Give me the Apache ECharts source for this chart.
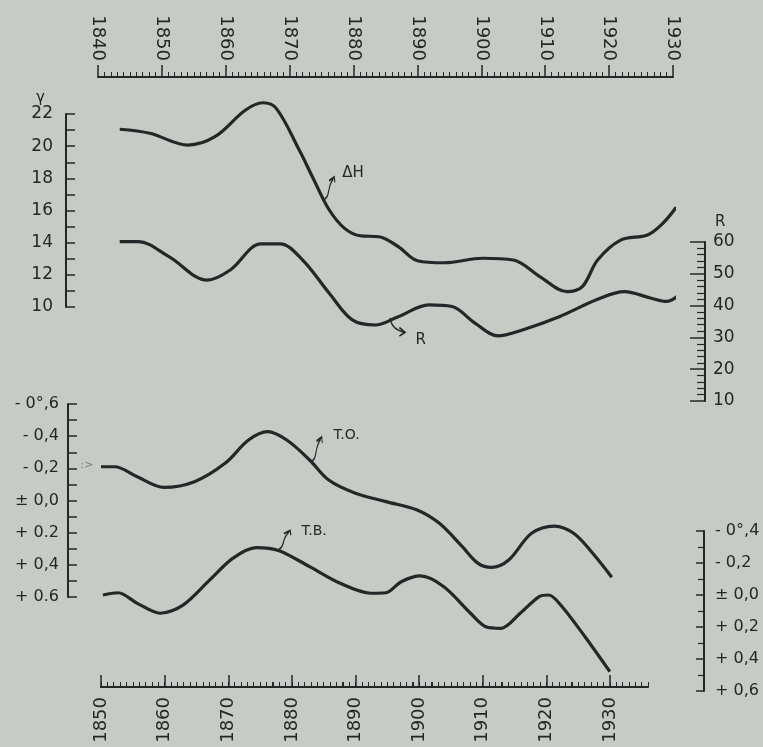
<!DOCTYPE html>
<html><head><meta charset="utf-8">
<script src="https://cdn.jsdelivr.net/npm/echarts@6/dist/echarts.min.js"></script>
<style>html,body{margin:0;padding:0;background:#c6cbc5}#c{width:763px;height:747px}</style>
</head><body><div id="c"></div>
<script>
// ΔH (gamma), top panel, upper time axis
const dhYears  = [1843.4,1848.1,1854.1,1858.3,1863.1,1865.8,1867.9,1871.5,1873.8,1876.2,1878.6,1881.0,1884.0,1887.0,1890.0,1894.2,1900.2,1905.0,1909.2,1913.4,1915.8,1918.2,1921.8,1926.0,1928.4,1930.5];
const dhValues = [21.05,20.80,20.07,20.59,22.25,22.70,22.35,19.76,17.90,16.03,14.89,14.43,14.37,13.75,12.88,12.75,13.03,12.92,11.88,10.95,11.26,12.92,14.16,14.48,15.20,16.20];
// R (sunspot number), top panel, right axis
const rYears  = [1843.4,1846.3,1851.1,1857.1,1860.7,1865.5,1868.5,1872.0,1876.2,1879.8,1883.4,1887.0,1891.8,1895.4,1899.0,1902.6,1906.2,1912.2,1918.2,1922.4,1926.6,1929.0,1932.0];
const rValues = [60.1,60.1,55.4,48.0,51.2,59.4,59.4,54.4,43.9,35.5,33.9,36.5,40.2,39.7,34.5,30.5,32.2,36.5,42.0,44.4,42.3,41.3,45.3];
// T.O., bottom panel, left axis (inverted)
const toYears  = [1850.0,1852.1,1855.7,1859.9,1864.7,1869.5,1873.2,1876.2,1879.2,1882.8,1885.8,1890.0,1894.8,1899.7,1903.2,1906.8,1909.3,1911.4,1914.1,1917.7,1921.3,1924.3,1927.3,1930.3];
const toValues = [-0.210,-0.210,-0.148,-0.082,-0.117,-0.231,-0.376,-0.428,-0.376,-0.252,-0.127,-0.045,0.007,0.059,0.142,0.287,0.391,0.416,0.370,0.204,0.159,0.204,0.328,0.477];
// T.B., bottom panel, right axis (inverted)
const tbYears  = [1850.3,1852.7,1855.7,1859.3,1862.9,1867.1,1870.7,1874.4,1878.0,1882.8,1887.6,1892.4,1894.8,1897.2,1900.2,1903.9,1908.1,1910.5,1912.9,1915.9,1918.9,1920.4,1922.5,1926.1,1930.0];
const tbValues = [0.000,-0.014,0.052,0.114,0.063,-0.094,-0.229,-0.296,-0.277,-0.177,-0.073,-0.011,-0.014,-0.083,-0.119,-0.052,0.114,0.198,0.208,0.114,0.010,0.000,0.073,0.261,0.479];

const toTickLabels = ['- 0°,6','- 0,4','- 0,2','± 0,0','+ 0.2','+ 0,4','+ 0.6'];
const tbTickLabels = ['- 0°,4','- 0,2','± 0,0','+ 0,2','+ 0,4','+ 0,6'];

const ink = '#262628';
const font = 'DejaVu Sans';
const pairs = (xs, ys) => xs.map((x, i) => [x, ys[i]]);

const arrowUp = 'path://M0,24 C5,20 2,11 8,2 M4,4 L9,0 L9.5,6';
const arrowDown = 'path://M0,0 C1,8 6,10 12,12 M8,8 L13,12 L8,15';
const arrowStyle = {color: 'transparent', borderColor: ink, borderWidth: 1.5};
function textPoint(coord, text, size) {
  return {coord, symbol: 'circle', symbolSize: 1, itemStyle: {color: 'transparent'},
    label: {show: true, position: 'inside', formatter: text, color: ink, fontSize: size, fontFamily: font}};
}
function arrowPoint(coord, sym, size) {
  return {coord, symbol: sym, symbolSize: size, itemStyle: arrowStyle, label: {show: false}};
}

const axisLine = {show: true, onZero: false, lineStyle: {color: ink, width: 2}};
const lbl = (extra) => Object.assign({color: ink, fontFamily: font, fontSize: 16}, extra);

const chart = echarts.init(document.getElementById('c'));
chart.setOption({
  animation: false,
  backgroundColor: '#c6cbc5',
  grid: [
    {left: 98, top: 114, width: 575, height: 193, containLabel: false, outerBoundsMode: 'none'},
    {left: 98, top: 242, width: 575, height: 159, containLabel: false, outerBoundsMode: 'none'},
    {left: 101, top: 404, width: 547, height: 193, containLabel: false, outerBoundsMode: 'none'},
    {left: 101, top: 531, width: 547, height: 160, containLabel: false, outerBoundsMode: 'none'},
    {left: 101, top: 404, width: 509, height: 193, containLabel: false, outerBoundsMode: 'none'}
  ],
  xAxis: [
    {gridIndex: 0, type: 'value', position: 'top', offset: 37, min: 1840, max: 1930, interval: 10,
      axisLine, splitLine: {show: false},
      axisTick: {show: true, length: 12, lineStyle: {color: ink, width: 1.5}},
      minorTick: {show: true, splitNumber: 10, length: 5, lineStyle: {color: ink, width: 1}},
      axisLabel: lbl({fontSize: 18, rotate: 90, margin: 16, formatter: v => String(v)})},
    {gridIndex: 1, type: 'value', show: false, min: 1840, max: 1930},
    {gridIndex: 2, type: 'value', position: 'bottom', offset: 90, min: 1850, max: 1936, interval: 1,
      axisLine, splitLine: {show: false},
      axisTick: {show: true, inside: true, length: 5, lineStyle: {color: ink, width: 1}},
      axisLabel: {show: false}},
    {gridIndex: 3, type: 'value', show: false, min: 1850, max: 1936},
    {gridIndex: 4, type: 'value', position: 'bottom', offset: 90, min: 1850, max: 1930, interval: 10,
      axisLine, splitLine: {show: false},
      axisTick: {show: true, inside: true, length: 12, lineStyle: {color: ink, width: 1.5}},
      minorTick: {show: true, splitNumber: 10, length: 5, lineStyle: {color: ink, width: 1}},
      axisLabel: lbl({fontSize: 18, rotate: 90, margin: 10, formatter: v => String(v)})}
  ],
  yAxis: [
    {gridIndex: 0, type: 'value', position: 'left', offset: 32, min: 10, max: 22, interval: 2,
      name: 'γ', nameLocation: 'end', nameGap: 8,
      nameTextStyle: {color: ink, fontFamily: font, fontSize: 15, align: 'right', padding: [0, 21, 0, 0]},
      axisLine, splitLine: {show: false},
      axisTick: {show: true, inside: true, length: 9, lineStyle: {color: ink, width: 1.5}},
      minorTick: {show: true, splitNumber: 2, length: 9, lineStyle: {color: ink, width: 1.5}},
      axisLabel: lbl({fontSize: 17, margin: 13})},
    {gridIndex: 1, type: 'value', position: 'right', offset: 32, min: 10, max: 60, interval: 10,
      name: 'R', nameLocation: 'end', nameGap: 12,
      nameTextStyle: {color: ink, fontFamily: font, fontSize: 15, align: 'left', padding: [0, 0, 0, 10]},
      axisLine, splitLine: {show: false},
      axisTick: {show: true, inside: true, length: 15, lineStyle: {color: ink, width: 1.5}},
      minorTick: {show: true, splitNumber: 5, length: 8, lineStyle: {color: ink, width: 1.2}},
      axisLabel: lbl({fontSize: 17, margin: 8})},
    {gridIndex: 2, type: 'value', position: 'left', offset: 33, min: -0.6, max: 0.6, interval: 0.2, inverse: true,
      axisLine, splitLine: {show: false},
      axisTick: {show: true, inside: true, length: 9, lineStyle: {color: ink, width: 1.5}},
      minorTick: {show: true, splitNumber: 2, length: 9, lineStyle: {color: ink, width: 1.5}},
      axisLabel: lbl({fontSize: 16, margin: 9, formatter: v => toTickLabels[Math.round((v + 0.6) / 0.2)]})},
    {gridIndex: 3, type: 'value', position: 'right', offset: 56, min: -0.4, max: 0.6, interval: 0.2, inverse: true,
      axisLine, splitLine: {show: false},
      axisTick: {show: true, inside: true, length: 8, lineStyle: {color: ink, width: 1.5}},
      minorTick: {show: true, splitNumber: 2, length: 6, lineStyle: {color: ink, width: 1.2}},
      axisLabel: lbl({fontSize: 16, margin: 11, formatter: v => tbTickLabels[Math.round((v + 0.4) / 0.2)]})},
    {gridIndex: 4, type: 'value', show: false, min: 0, max: 1}
  ],
  series: [
    {name: 'ΔH', type: 'line', xAxisIndex: 0, yAxisIndex: 0, data: pairs(dhYears, dhValues),
      smooth: 0.35, symbol: 'none', clip: false, lineStyle: {color: ink, width: 3.2},
      markPoint: {silent: true, animation: false, data: [
        arrowPoint([1876.3, 17.4], arrowUp, [10, 22]),
        textPoint([1879.9, 18.33], 'ΔH', 15)
      ]}},
    {name: 'R', type: 'line', xAxisIndex: 1, yAxisIndex: 1, data: pairs(rYears, rValues),
      smooth: 0.35, symbol: 'none', clip: false, lineStyle: {color: ink, width: 3.2},
      markPoint: {silent: true, animation: false, data: [
        arrowPoint([1886.9, 33.3], arrowDown, [15, 18]),
        textPoint([1890.5, 29.2], 'R', 15)
      ]}},
    {name: 'T.O.', type: 'line', xAxisIndex: 2, yAxisIndex: 2, data: pairs(toYears, toValues),
      smooth: 0.35, symbol: 'none', clip: false, lineStyle: {color: ink, width: 3.2},
      markPoint: {silent: true, animation: false, data: [
        arrowPoint([1884.0, -0.320], arrowUp, [10, 24]),
        textPoint([1888.6, -0.407], 'T.O.', 14),
        {x: 87, y: 465, symbol: 'circle', symbolSize: 1, itemStyle: {color: 'transparent'},
          label: {show: true, position: 'inside', formatter: ':>', color: '#7a7d78', fontSize: 11, fontFamily: font}}
      ]}},
    {name: 'T.B.', type: 'line', xAxisIndex: 3, yAxisIndex: 3, data: pairs(tbYears, tbValues),
      smooth: 0.3, symbol: 'none', clip: false, lineStyle: {color: ink, width: 3.2},
      markPoint: {silent: true, animation: false, data: [
        arrowPoint([1878.9, -0.344], arrowUp, [12, 19]),
        textPoint([1883.5, -0.398], 'T.B.', 14)
      ]}}
  ]
});
</script>
</body></html>
